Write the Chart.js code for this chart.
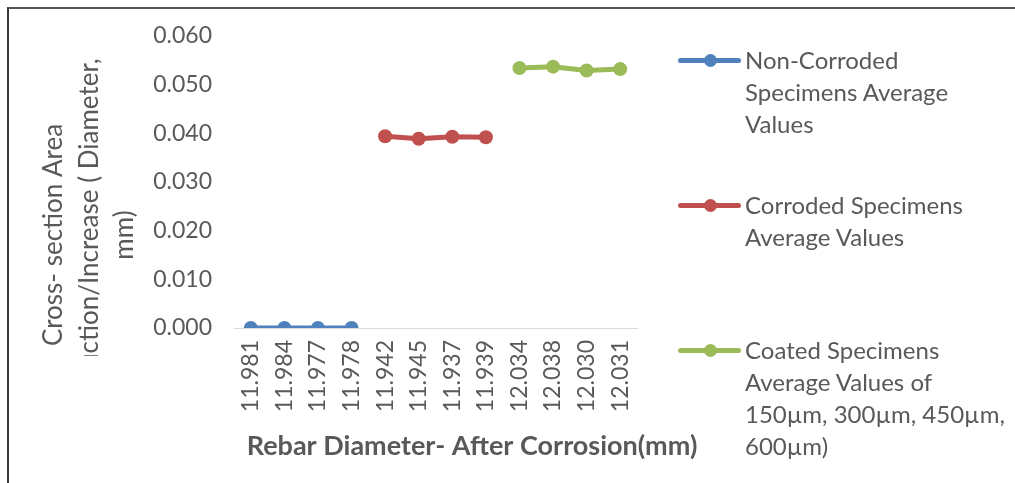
<!DOCTYPE html>
<html>
<head>
<meta charset="utf-8">
<script src="https://cdn.jsdelivr.net/npm/chart.js@4/dist/chart.umd.min.js"></script>
<style>
  body { margin: 0; background: #fff; }
  #wrap { position: relative; width: 1015px; height: 483px; overflow: hidden; }
  #chart { position: absolute; left: 0; top: 0; }
  #frame { position: absolute; left: 7px; top: 7px; width: 1020px; height: 500px;
           border-left: 2px solid #3a3a3a; border-top: 2px solid #555; }
  .leg { position: absolute; left: 678px; font-family: Lato, sans-serif; font-size: 24px;
         line-height: 32px; color: #595959; }
  .leg .mark { position: absolute; left: 0; top: 14px; width: 63px; height: 5px; border-radius: 3px; }
  .leg .dot { position: absolute; left: 26px; top: -4px; width: 13px; height: 13px; border-radius: 50%; }
  .leg .txt { position: absolute; left: 67px; top: 0; white-space: nowrap; }
</style>
</head>
<body>
<div id="wrap">
  <canvas id="chart" width="1015" height="483"></canvas>
  <div id="frame"></div>
  <div id="legend"></div>
</div>
<script>
const diameters = ["11.981", "11.984", "11.977", "11.978", "11.942", "11.945", "11.937", "11.939", "12.034", "12.038", "12.030", "12.031"];
const nonCorroded = [0.000, 0.000, 0.000, 0.000, null, null, null, null, null, null, null, null];
const corroded = [null, null, null, null, 0.0394, 0.0389, 0.0393, 0.0392, null, null, null, null];
const coated = [null, null, null, null, null, null, null, null, 0.0534, 0.0537, 0.0529, 0.0532];
const yTicks = [0, 0.01, 0.02, 0.03, 0.04, 0.05, 0.06];

const seriesNames = [
  ["Non-Corroded", "Specimens Average", "Values"],
  ["Corroded Specimens", "Average Values"],
  ["Coated Specimens", "Average Values of", "150\u00b5m, 300\u00b5m, 450\u00b5m,", "600\u00b5m)"]
];
const colors = ["#4f81bd", "#c0504d", "#9bbb59"];
const legendTops = [44, 189, 334];

const xTitle = "Rebar Diameter- After Corrosion(mm)";
const yTitle = ["Cross- section Area", "Reduction/Increase ( Diameter,", "mm)"];

const textColor = "#595959";
const fontFamily = "Lato, sans-serif";

// legend on the right, built as html so the labels can wrap
const legendDiv = document.getElementById("legend");
seriesNames.forEach((lines, i) => {
  const item = document.createElement("div");
  item.className = "leg";
  item.style.top = legendTops[i] + "px";
  item.innerHTML = `<div class="mark" style="background:${colors[i]}"><div class="dot" style="background:${colors[i]}"></div></div>` +
    `<div class="txt">${lines.join("<br>")}</div>`;
  legendDiv.appendChild(item);
});

const axisTitles = {
  id: "axisTitles",
  afterDraw(chart) {
    const ctx = chart.ctx;
    ctx.save();
    ctx.fillStyle = textColor;
    ctx.textAlign = "center";
    ctx.textBaseline = "middle";
    ctx.font = "bold 27px " + fontFamily;
    ctx.fillText(xTitle, 472, 446);

    ctx.font = "26px " + fontFamily;
    ctx.beginPath();
    ctx.rect(0, 0, 150, 356);
    ctx.clip();
    const xs = [54, 90, 125];
    yTitle.forEach((line, i) => {
      ctx.save();
      ctx.translate(xs[i], 235);
      ctx.rotate(-Math.PI / 2);
      ctx.fillText(line, 0, 0);
      ctx.restore();
    });
    ctx.restore();
  }
};

function makeSet(label, data, color) {
  return {
    label, data,
    borderColor: color, backgroundColor: color,
    borderWidth: 5, pointRadius: 7, pointHoverRadius: 7,
    pointBorderWidth: 0, tension: 0, spanGaps: false
  };
}

new Chart(document.getElementById("chart"), {
  type: "line",
  data: {
    labels: diameters,
    datasets: [
      makeSet(seriesNames[0].join(" "), nonCorroded, colors[0]),
      makeSet(seriesNames[1].join(" "), corroded, colors[1]),
      makeSet(seriesNames[2].join(" "), coated, colors[2])
    ]
  },
  options: {
    responsive: false,
    animation: false,
    layout: { padding: { left: 0, top: 36, right: 378, bottom: 0 } },
    plugins: { legend: { display: false }, tooltip: { enabled: false } },
    scales: {
      x: {
        offset: true,
        grid: { display: false, drawTicks: false },
        border: { display: true, color: "#d9d9d9", width: 1 },
        ticks: {
          minRotation: 90, maxRotation: 90, autoSkip: false, padding: 12,
          color: textColor, font: { family: fontFamily, size: 23 }
        },
        afterFit(scale) { scale.height = 155; }
      },
      y: {
        min: 0, max: 0.06,
        grid: { display: false, drawTicks: false },
        border: { display: false },
        afterBuildTicks(scale) { scale.ticks = yTicks.map(v => ({ value: v })); },
        ticks: {
          padding: 22, color: textColor, font: { family: fontFamily, size: 23 },
          callback: v => v.toFixed(3)
        },
        afterFit(scale) { scale.width = 234; }
      }
    }
  },
  plugins: [axisTitles]
});
</script>
</body>
</html>
